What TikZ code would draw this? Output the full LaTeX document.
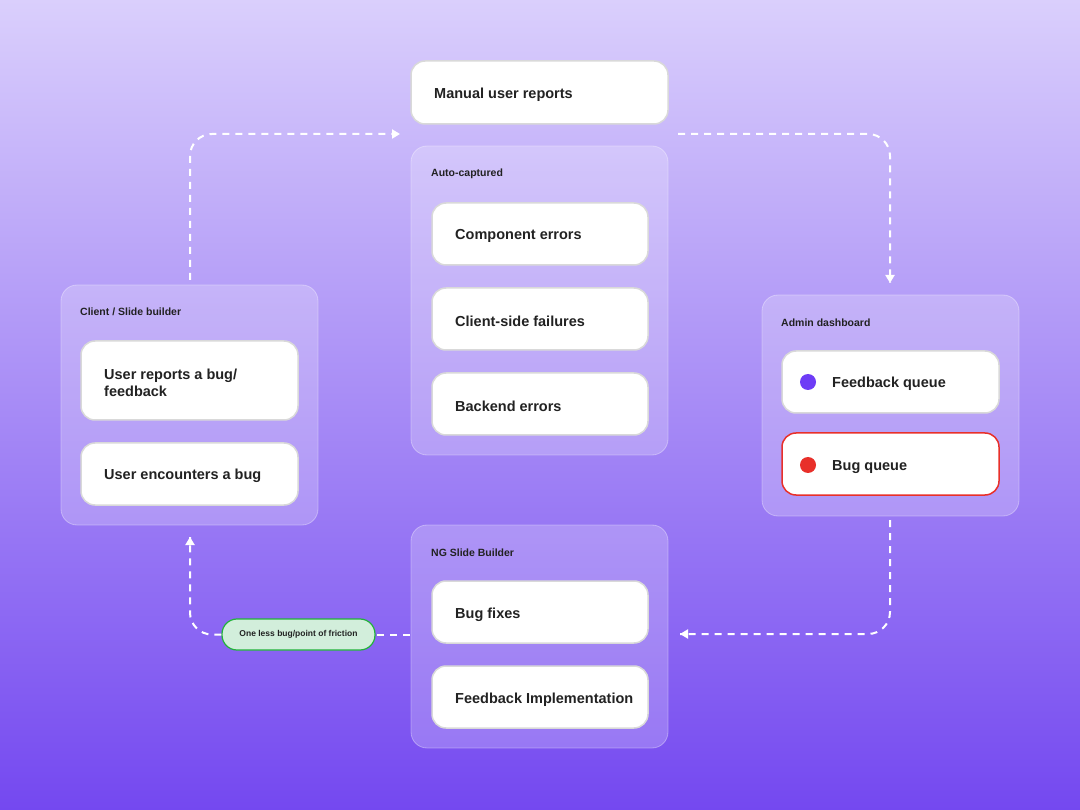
\documentclass[tikz,border=0pt]{standalone}
\usepackage{fontspec}
\setmainfont{Liberation Sans}
\usetikzlibrary{arrows.meta}
\definecolor{bgtop}{HTML}{DACFFC}
\definecolor{bgbot}{HTML}{7448F0}
\definecolor{txt}{HTML}{222222}
\definecolor{fb}{HTML}{6E3CF6}
\definecolor{bugc}{HTML}{E8302A}
\definecolor{pillf}{HTML}{D2EEDB}
\definecolor{pilld}{HTML}{22B33A}
\tikzset{
 panel/.style={fill=white,fill opacity=0.22,draw=white,draw opacity=0.35,line width=0.8pt,rounded corners=16pt},
 box/.style={fill=white,draw=black!15,line width=1.5pt,rounded corners=14pt},
 ttl/.style={anchor=west,font=\fontsize{10.5}{12}\selectfont\bfseries,text=txt,inner sep=0},
 lbl/.style={anchor=west,font=\fontsize{14.5}{17}\selectfont\bfseries,text=txt,inner sep=0,align=left},
 flow/.style={draw=white,line width=2pt,dash pattern=on 7pt off 6pt,rounded corners=22pt},
 tip/.style={-{Triangle[width=9pt,length=8pt]}}
}
\begin{document}
\begin{tikzpicture}[x=1pt,y=-1pt]
\useasboundingbox (0,0) rectangle (1080,810);
\shade[top color=bgtop,bottom color=bgbot] (0,0) rectangle (1080,810);
% panels
\draw[panel] (411,146) rectangle (668,455);
\draw[panel] (61,285) rectangle (318,525);
\draw[panel] (762,295) rectangle (1019,516);
\draw[panel] (411,525) rectangle (668,748);
\node[ttl] (t1) at (431,174) {Auto-captured};
\node[ttl] (t2) at (80,312) {Client / Slide builder};
\node[ttl] (t3) at (781,323) {Admin dashboard};
\node[ttl] (t4) at (431,553) {NG Slide Builder};
% boxes
\draw[box] (411,61) rectangle (668,124); \node[lbl] (m) at (434,95) {Manual user reports};
\draw[box] (432,203) rectangle (648,265); \node[lbl] (a1) at (455,236) {Component errors};
\draw[box] (432,288) rectangle (648,350); \node[lbl] (a2) at (455,321) {Client-side failures};
\draw[box] (432,373) rectangle (648,435); \node[lbl] (a3) at (455,406) {Backend errors};
\draw[box] (81,341) rectangle (298,420); \node[lbl] (c1) at (104,383) {User reports a bug/\\feedback};
\draw[box] (81,443) rectangle (298,505); \node[lbl] (c2) at (104,476) {User encounters a bug};
\draw[box] (782,351) rectangle (999,413); \node[lbl] (d1) at (832,384) {Feedback queue};
\draw[box,draw=bugc] (782,433) rectangle (999,495); \node[lbl] (d2) at (832,467) {Bug queue};
\fill[fb] (808,382) circle (8);
\fill[bugc] (808,465) circle (8);
\draw[box] (432,581) rectangle (648,643); \node[lbl] (n1) at (455,615) {Bug fixes};
\draw[box] (432,666) rectangle (648,728); \node[lbl] (n2) at (455,700) {Feedback Implementation};
% pill
\node[draw=pilld,fill=pillf,line width=1.2pt,rounded corners=15pt,minimum width=153pt,minimum height=31pt,inner sep=0,
 font=\fontsize{8.5}{10}\selectfont\bfseries,text=txt] (p) at (298.5,634.5) {One less bug/point of friction};
% flows
\coordinate (s1) at (190,280); \coordinate (e1) at (400,134);
\draw[flow] (s1) |- (e1);
\draw[tip,draw=white,line width=2pt] (396,134) -- (e1);
\coordinate (s2) at (678,134); \coordinate (e2) at (890,283);
\draw[flow] (s2) -| (e2);
\draw[tip,draw=white,line width=2pt] (890,279) -- (e2);
\coordinate (s3) at (890,520); \coordinate (e3) at (680,634);
\draw[flow] (s3) |- (e3);
\draw[tip,draw=white,line width=2pt] (684,634) -- (e3);
\coordinate (s4) at (410,634.5);
\draw[flow] (s4) -- (p.east);
\coordinate (e4) at (190,537);
\draw[flow] (p.west) -| (e4);
\draw[tip,draw=white,line width=2pt] (190,541) -- (e4);
\end{tikzpicture}
\end{document}
